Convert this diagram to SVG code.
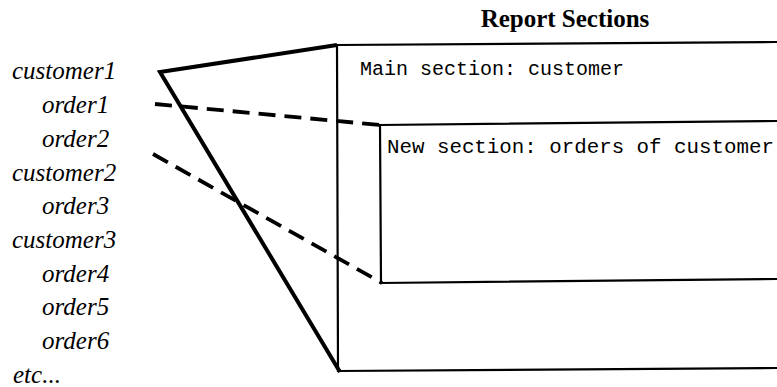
<svg xmlns="http://www.w3.org/2000/svg" width="777" height="387" viewBox="0 0 777 387">
  <style>
    .rec { font-family: "Liberation Serif", "Times New Roman", serif; font-style: italic; font-size: 25px; fill: #000; }
    .mono { font-family: "Liberation Mono", "Courier New", monospace; font-size: 20px; fill: #000; }
    .title { font-family: "Liberation Serif", "Times New Roman", serif; font-weight: bold; font-size: 25px; fill: #000; }
    .frame { fill: none; stroke: #000; stroke-width: 2.2; stroke-linejoin: miter; }
    .solid { fill: none; stroke: #000; stroke-width: 4; stroke-linejoin: miter; }
    .dash { fill: none; stroke: #000; stroke-width: 3.8; stroke-dasharray: 17 9; }
  </style>
  <rect width="777" height="387" fill="#fff"/>

  <!-- input record stream -->
  <g id="records">
    <text class="rec" x="12" y="79">customer1</text>
    <text class="rec" x="42" y="113">order1</text>
    <text class="rec" x="42" y="147">order2</text>
    <text class="rec" x="12" y="181">customer2</text>
    <text class="rec" x="42" y="214">order3</text>
    <text class="rec" x="12" y="248">customer3</text>
    <text class="rec" x="42" y="282">order4</text>
    <text class="rec" x="42" y="315">order5</text>
    <text class="rec" x="42" y="349">order6</text>
    <text class="rec" x="13" y="383">etc...</text>
  </g>

  <g id="title">
    <text class="title" x="565" y="27" text-anchor="middle">Report Sections</text>
  </g>

  <!-- outer section -->
  <g id="main-section">
    <path class="frame" d="M777,42 L337,45 L338,371 L777,368"/>
    <text class="mono" x="360" y="75">Main section: customer</text>
  </g>

  <!-- nested section -->
  <g id="new-section">
    <path class="frame" d="M777,121 L380,125 L381,283 L777,279"/>
    <text class="mono" x="387" y="153" style="font-size:20.8px">New section: orders of customer</text>
  </g>

  <g id="connectors">
    <path class="solid" d="M337,45 L160,72 L340,372"/>
    <path class="dash" d="M155,104 L380,125"/>
    <path class="dash" d="M153,154 L382,283"/>
  </g>
</svg>
